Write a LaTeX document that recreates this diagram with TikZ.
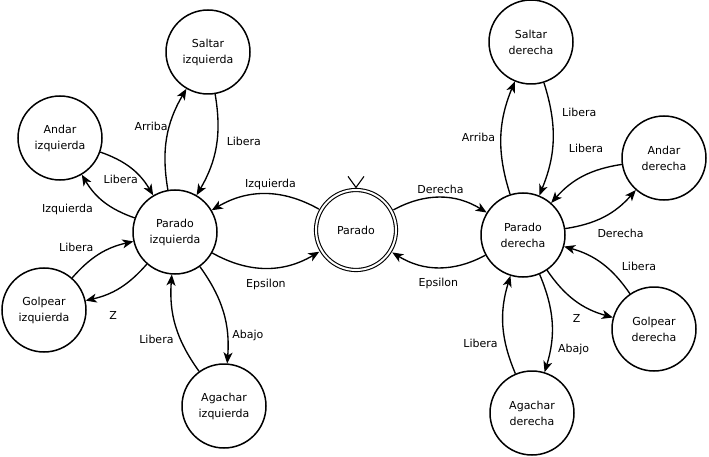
\documentclass[tikz,border=0pt]{standalone}
\usepackage{fontspec}
\setmainfont{DejaVu Sans}
\usetikzlibrary{calc,arrows.meta,positioning}

\begin{document}
\begin{tikzpicture}[x=1pt, y=-1pt, inner sep=0pt, outer sep=0pt,
    every node/.style={font=\fontsize{11}{16}\selectfont},
    estado/.style={draw, circle, line width=1.5pt, minimum size=84pt, outer sep=0.7pt, align=center},
    inicial/.style={draw, circle, line width=1.1pt, double, double distance=2pt, minimum size=80pt, outer sep=2.6pt},
    trans/.style={-{Stealth[length=11pt,width=9pt,inset=3pt]}, line width=1.35pt},
    etiq/.style={inner sep=2pt}]
    \useasboundingbox (0,0) rectangle (709,457);

    % estado inicial
    \node[inicial] (parado) at (356, 230) {Parado};
    \draw[line width=1.1pt] ($(parado.north) + (-8, -11)$) -- (parado.north)
        -- ($(parado.north) + (8, -11)$);

    % lado izquierdo
    \node[estado] (parado_izq) at (175, 232) {Parado\\izquierda};
    \node[estado] (saltar_izq) at (208, 52) {Saltar\\izquierda};
    \node[estado] (andar_izq) at (60, 138) {Andar\\izquierda};
    \node[estado] (golpear_izq) at (44, 310) {Golpear\\izquierda};
    \node[estado] (agachar_izq) at (224, 406) {Agachar\\izquierda};

    % lado derecho
    \node[estado] (parado_der) at (523, 235) {Parado\\derecha};
    \node[estado] (saltar_der) at (531, 42) {Saltar\\derecha};
    \node[estado] (andar_der) at (664, 158) {Andar\\derecha};
    \node[estado] (golpear_der) at (654, 329) {Golpear\\derecha};
    \node[estado] (agachar_der) at (532, 413) {Agachar\\derecha};

    % transiciones izquierda
    \draw[trans] (parado) to[bend right=30] node[etiq, pos=0.45, above=2pt] (parado_izq_lbl) {Izquierda} (parado_izq);
    \draw[trans] (parado_izq) to[bend right=30] node[etiq, below=9pt] (epsilon_izq_lbl) {Epsilon} (parado);
    \draw[trans] (parado_izq) to[bend left=20] node[etiq, pos=0.62, left] (saltar_izq_lbl) {Arriba} (saltar_izq);
    \draw[trans] (saltar_izq) to[bend left=20] node[etiq, pos=0.45, right=8pt] (saltar_izq_lib) {Libera} (parado_izq);
    \draw[trans] (parado_izq) to[bend left=20] node[etiq, below left=1pt and 9pt] (andar_izq_lbl) {Izquierda} (andar_izq);
    \draw[trans] (andar_izq) to[bend left=20] node[etiq, pos=0.6, below left=0pt and -4pt] (andar_izq_lib) {Libera} (parado_izq);
    \draw[trans] (golpear_izq) to[bend left=18] node[etiq, above left=0pt and 4pt] (golpear_izq_lib) {Libera} (parado_izq);
    \draw[trans] (parado_izq) to[bend left=18] node[etiq, pos=0.7, below right=16pt and 0pt] (golpear_izq_lbl) {Z} (golpear_izq);
    \draw[trans] (parado_izq) to[bend left=20] node[etiq, pos=0.74, right=3pt] (agachar_izq_lbl) {Abajo} (agachar_izq);
    \draw[trans] (agachar_izq) to[bend left=20] node[etiq, pos=0.35, left=5pt] (agachar_izq_lib) {Libera} (parado_izq);

    % transiciones derecha
    \draw[trans] (parado) to[bend left=30] node[etiq, above=2pt] (parado_der_lbl) {Derecha} (parado_der);
    \draw[trans] (parado_der) to[bend left=30] node[etiq, below=9pt] (epsilon_der_lbl) {Epsilon} (parado);
    \draw[trans] (parado_der) to[bend left=20] node[etiq, left=4pt] (saltar_der_lbl) {Arriba} (saltar_der);
    \draw[trans] (saltar_der) to[bend left=20] node[etiq, pos=0.25, right=9pt] (saltar_der_lib) {Libera} (parado_der);
    \draw[trans] (andar_der) to[bend right=20] node[etiq, pos=0.45, above=20pt] (andar_der_lib) {Libera} (parado_der);
    \draw[trans] (parado_der) to[bend right=20] node[etiq, pos=0.4, below right=7pt and -2pt] (andar_der_lbl) {Derecha} (andar_der);
    \draw[trans] (golpear_der) to[bend right=20] node[etiq, pos=0.4, above right=-4pt and 12pt] (golpear_der_lib) {Libera} (parado_der);
    \draw[trans] (parado_der) to[bend right=20] node[etiq, pos=0.55, below left=10pt and -4pt] (golpear_der_lbl) {Z} (golpear_der);
    \draw[trans] (parado_der) to[bend left=20] node[etiq, pos=0.78, right=6pt] (agachar_der_lbl) {Abajo} (agachar_der);
    \draw[trans] (agachar_der) to[bend left=20] node[etiq, pos=0.3, left=6pt] (agachar_der_lib) {Libera} (parado_der);

\end{tikzpicture}
\end{document}
